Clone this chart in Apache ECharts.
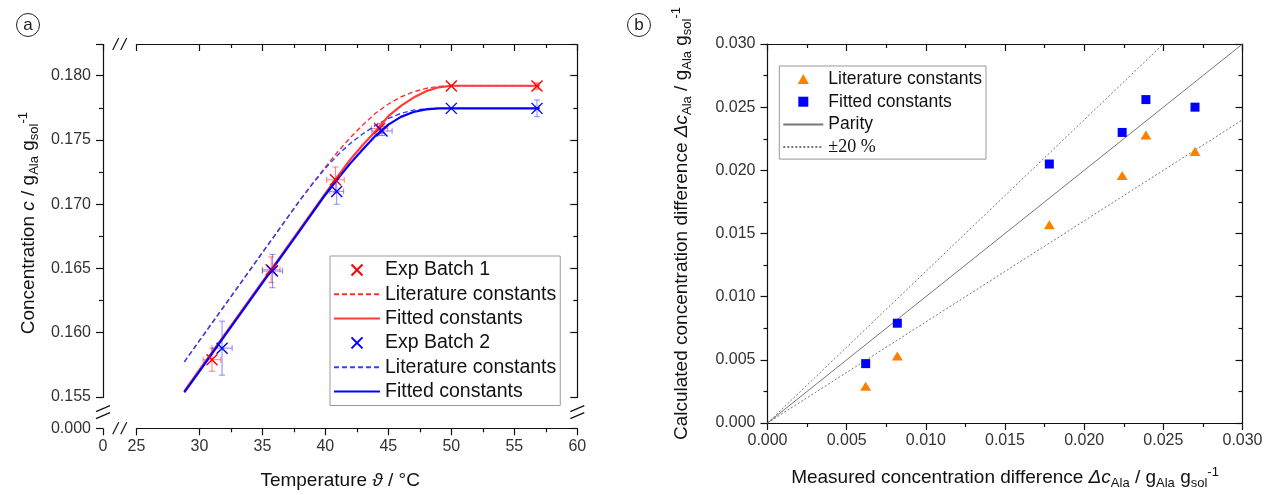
<!DOCTYPE html>
<html><head><meta charset="utf-8">
<script src="https://cdn.jsdelivr.net/npm/echarts@6/dist/echarts.min.js"></script>
<style>html,body{margin:0;padding:0;background:#fff}#c{width:1272px;height:495px}</style>
</head><body><div id="c"></div>
<script>
// ---------- Panel a data ----------
const b1T  = [31.0, 35.7, 40.8, 44.3, 50.0, 56.8];
const b1C  = [0.1579, 0.1649, 0.1719, 0.1759, 0.1792, 0.1792];
const b1dT = [0.7, 0.7, 0.7, 0.65, 0, 0.1];
const b1dC = [0.0009, 0.0010, 0.0010, 0.0004, 0, 0.00025];
const b2T  = [31.8, 35.8, 40.9, 44.5, 50.0, 56.8];
const b2C  = [0.1588, 0.1648, 0.1710, 0.1757, 0.17746, 0.17746];
const b2dT = [0.8, 0.8, 0.55, 0.8, 0, 0.15];
const b2dC = [0.0021, 0.0013, 0.0010, 0.00035, 0, 0.00065];

const curveT = [28.8, 30, 32, 34, 36, 38, 39, 40, 41, 42, 43, 44, 45, 46, 47, 48, 49, 50, 57];
const fit1C = [0.15545, 0.15710, 0.15985, 0.16259, 0.16534, 0.16809, 0.16946, 0.17084, 0.17221, 0.17350, 0.17465, 0.17570, 0.17685, 0.17765, 0.17830, 0.17880, 0.17910, 0.17922, 0.17922];
const lit1C = [0.15773, 0.15938, 0.16212, 0.16486, 0.16760, 0.17034, 0.17165, 0.17290, 0.17410, 0.17520, 0.17620, 0.17710, 0.17780, 0.17835, 0.17875, 0.17902, 0.17917, 0.17922, 0.17922];
const fit2C = [0.15535, 0.15700, 0.15975, 0.16249, 0.16524, 0.16799, 0.16936, 0.17074, 0.17200, 0.17320, 0.17430, 0.17535, 0.17620, 0.17680, 0.17718, 0.17738, 0.17746, 0.17746, 0.17746];
const lit2C = [0.15773, 0.15938, 0.16212, 0.16486, 0.16760, 0.17034, 0.17160, 0.17280, 0.17385, 0.17475, 0.17550, 0.17615, 0.17668, 0.17707, 0.17732, 0.17744, 0.17746, 0.17746, 0.17746];

// ---------- Panel b data ----------
const measDiff = [0.0062, 0.0082, 0.0178, 0.0224, 0.0239, 0.0270];
const calcLit  = [0.0029, 0.0053, 0.0157, 0.0196, 0.0228, 0.0215];
const calcFit  = [0.0047, 0.0079, 0.0205, 0.0230, 0.0256, 0.0250];
const parityLine = [[0, 0], [0.030, 0.030]];
const plus20Line = [[0, 0], [0.025, 0.030]];
const minus20Line = [[0, 0], [0.030, 0.024]];

const legendLabels = {
  b1: 'Exp Batch 1', lit1: 'Literature constants', fit1: 'Fitted constants',
  b2: 'Exp Batch 2', lit2: 'Literature constants', fit2: 'Fitted constants',
  litR: 'Literature constants', fitR: 'Fitted constants', parity: 'Parity', pm20: '{s|\u00b120 %}'
};

const FONT = '"Liberation Sans", Arial, sans-serif';
const zip = (a, b) => a.map((v, i) => [v, b[i]]);
const zip4 = (a, b, c, d) => a.map((v, i) => [v, b[i], c[i], d[i]]);

const RED = '#ff0000', BLUE = '#0000ff';
const XSYM = 'path://M0,0L10,10M10,0L0,10';
const TRI = 'path://M5,0L10,9L0,9Z';
const SQ = 'path://M0,0L10,0L10,10L0,10Z';

function errRender(color) {
  return function (params, api) {
    const x = api.value(0), y = api.value(1), dx = api.value(2), dy = api.value(3);
    const c = api.coord([x, y]);
    const ch = [];
    const cap = 3;
    const st = { stroke: color, lineWidth: 1 };
    if (dy > 0) {
      const t = api.coord([x, y + dy]), b = api.coord([x, y - dy]);
      ch.push({ type: 'line', shape: { x1: c[0], y1: t[1], x2: c[0], y2: b[1] }, style: st });
      ch.push({ type: 'line', shape: { x1: c[0] - cap, y1: t[1], x2: c[0] + cap, y2: t[1] }, style: st });
      ch.push({ type: 'line', shape: { x1: c[0] - cap, y1: b[1], x2: c[0] + cap, y2: b[1] }, style: st });
    }
    if (dx > 0) {
      const l = api.coord([x - dx, y]), r = api.coord([x + dx, y]);
      ch.push({ type: 'line', shape: { x1: l[0], y1: c[1], x2: r[0], y2: c[1] }, style: st });
      ch.push({ type: 'line', shape: { x1: l[0], y1: c[1] - cap, x2: l[0], y2: c[1] + cap }, style: st });
      ch.push({ type: 'line', shape: { x1: r[0], y1: c[1] - cap, x2: r[0], y2: c[1] + cap }, style: st });
    }
    return { type: 'group', children: ch };
  };
}

const NF = 19;
const nameRich = {
  t: { fontSize: NF, fontFamily: FONT, color: '#111', lineHeight: 24 },
  i: { fontSize: NF, fontFamily: FONT, color: '#111', lineHeight: 24, fontStyle: 'italic' },
  s: { fontSize: 13, fontFamily: FONT, color: '#111', lineHeight: 10, verticalAlign: 'bottom' },
  p: { fontSize: 13, fontFamily: FONT, color: '#111', lineHeight: 10, verticalAlign: 'top' }
};

const lineCol = '#111';
function baseAxis(extra) {
  return Object.assign({
    type: 'value',
    axisLine: { show: true, onZero: false, lineStyle: { color: lineCol, width: 1.2 } },
    axisTick: { show: true, length: 7, lineStyle: { color: lineCol, width: 1.2 } },
    minorTick: { show: true, splitNumber: 2, length: 4, lineStyle: { color: lineCol, width: 1.2 } },
    splitLine: { show: false },
    minorSplitLine: { show: false },
    axisLabel: { fontSize: 16, fontFamily: FONT, color: '#333' }
  }, extra);
}

const xBreak = [{ start: 0, end: 25, gap: 2.653 }];
const yBreak = [{ start: 0, end: 0.155, gap: 0.002438 }];
const Y0MAX = 0.18247;

const chart = echarts.init(document.getElementById('c'), null, { renderer: 'canvas' });

const hideSym = { opacity: 0 };
const option = {
  animation: false,
  backgroundColor: '#fff',
  grid: [
    { left: 103, right: 1272 - 577.3, top: 44, bottom: 495 - 428.3 },
    { left: 767.5, right: 1272 - 1242.5, top: 44, bottom: 495 - 427.3 }
  ],
  xAxis: [
    baseAxis({ gridIndex: 0, min: 0, max: 60, interval: 5, breaks: xBreak, breakArea: { show: false },
      axisLabel: { fontSize: 16, fontFamily: FONT, color: '#333', margin: 10 },
      name: '{t|Temperature }{i|\u03d1}{t| / \u00b0C}', nameLocation: 'middle', nameGap: 40,
      nameTextStyle: { rich: nameRich } }),
    baseAxis({ gridIndex: 0, position: 'top', min: 0, max: 60, interval: 5, breaks: xBreak, breakArea: { show: false },
      axisTick: { show: true, inside: true, length: 7, lineStyle: { color: lineCol, width: 1.2 } },
      axisLabel: { show: false } }),
    baseAxis({ gridIndex: 1, min: 0, max: 0.030, interval: 0.005,
      axisLabel: { fontSize: 16, fontFamily: FONT, color: '#333', margin: 10, formatter: v => v.toFixed(3) },
      name: '{t|Measured concentration difference }{i|\u0394c}{s|Ala}{t| / g}{s|Ala}{t| g}{s|sol}{p|-1}',
      nameLocation: 'middle', nameGap: 43, nameTextStyle: { rich: nameRich } }),
    baseAxis({ gridIndex: 1, position: 'top', min: 0, max: 0.030, interval: 0.005,
      axisTick: { show: true, inside: true, length: 7, lineStyle: { color: lineCol, width: 1.2 } },
      axisLabel: { show: false } })
  ],
  yAxis: [
    baseAxis({ gridIndex: 0, min: 0, max: Y0MAX, interval: 0.005, breaks: yBreak, breakArea: { show: false },
      axisLabel: { fontSize: 16, fontFamily: FONT, color: '#333', margin: 12, showMaxLabel: false,
        formatter: v => (Math.abs(v / 0.005 - Math.round(v / 0.005)) < 1e-6 ? v.toFixed(3) : '') },
      name: '{t|Concentration }{i|c}{t| / g}{s|Ala}{t| g}{s|sol}{p|-1}',
      nameLocation: 'middle', nameGap: 62, nameTextStyle: { rich: nameRich, padding: [0, 0, 0, 26] } }),
    baseAxis({ gridIndex: 0, position: 'right', min: 0, max: Y0MAX, interval: 0.005, breaks: yBreak, breakArea: { show: false },
      axisTick: { show: true, inside: true, length: 7, lineStyle: { color: lineCol, width: 1.2 } },
      axisLabel: { show: false } }),
    baseAxis({ gridIndex: 1, min: 0, max: 0.030, interval: 0.005,
      axisLabel: { fontSize: 16, fontFamily: FONT, color: '#333', margin: 12, formatter: v => v.toFixed(3) },
      name: '{t|Calculated concentration difference }{i|\u0394c}{s|Ala}{t| / g}{s|Ala}{t| g}{s|sol}{p|-1}',
      nameLocation: 'middle', nameGap: 74, nameTextStyle: { rich: nameRich, padding: [0, 0, 0, 20] } }),
    baseAxis({ gridIndex: 1, position: 'right', min: 0, max: 0.030, interval: 0.005,
      axisTick: { show: true, inside: true, length: 7, lineStyle: { color: lineCol, width: 1.2 } },
      axisLabel: { show: false } })
  ],
  legend: [
    {
      data: ['b1', { name: 'lit1', itemStyle: hideSym }, { name: 'fit1', itemStyle: hideSym },
             'b2', { name: 'lit2', itemStyle: hideSym }, { name: 'fit2', itemStyle: hideSym }],
      orient: 'vertical', left: 330, top: 256,
      padding: [4, 4, 4, 3], itemGap: 4.3, itemWidth: 46, itemHeight: 11,
      borderColor: '#999', borderWidth: 1, backgroundColor: '#fff',
      formatter: n => legendLabels[n],
      textStyle: { fontSize: 19.5, fontFamily: FONT, color: '#111', lineHeight: 20 },
      selectedMode: false
    },
    {
      data: ['litR', 'fitR', { name: 'parity', itemStyle: hideSym }, { name: 'pm20', itemStyle: hideSym }],
      orient: 'vertical', left: 779.3, top: 66,
      padding: [3, 4, 2, 3], itemGap: 2.7, itemWidth: 40, itemHeight: 10,
      borderColor: '#999', borderWidth: 1, backgroundColor: '#fff',
      formatter: n => legendLabels[n],
      textStyle: { fontSize: 17.5, fontFamily: FONT, color: '#111', lineHeight: 20,
        rich: { s: { fontSize: 18, fontFamily: '"Liberation Serif", "Times New Roman", serif', color: '#111', lineHeight: 20 } } },
      selectedMode: false
    }
  ],
  series: [
    // panel a
    { type: 'custom', name: 'err1', xAxisIndex: 0, yAxisIndex: 0, z: 2, renderItem: errRender('rgba(255,40,40,0.6)'),
      data: zip4(b1T, b1C, b1dT, b1dC), encode: { x: 0, y: 1 } },
    { type: 'custom', name: 'err2', xAxisIndex: 0, yAxisIndex: 0, z: 2, renderItem: errRender('rgba(40,40,255,0.55)'),
      data: zip4(b2T, b2C, b2dT, b2dC), encode: { x: 0, y: 1 } },
    { type: 'line', name: 'lit1', xAxisIndex: 0, yAxisIndex: 0, z: 3, symbol: 'none', data: zip(curveT, lit1C),
      lineStyle: { color: '#ff3030', width: 1.4, type: [5, 3] }, itemStyle: { color: '#ff3030' } },
    { type: 'line', name: 'lit2', xAxisIndex: 0, yAxisIndex: 0, z: 3, symbol: 'none', data: zip(curveT, lit2C),
      lineStyle: { color: '#3040ff', width: 1.4, type: [5, 3] }, itemStyle: { color: '#3040ff' } },
    { type: 'line', name: 'fit1', xAxisIndex: 0, yAxisIndex: 0, z: 3, symbol: 'none', data: zip(curveT, fit1C),
      lineStyle: { color: '#ff3b3b', width: 2.2 }, itemStyle: { color: '#ff3b3b' } },
    { type: 'line', name: 'fit2', xAxisIndex: 0, yAxisIndex: 0, z: 3, symbol: 'none', data: zip(curveT, fit2C),
      lineStyle: { color: '#0000ff', width: 2.2 }, itemStyle: { color: '#0000ff' } },
    { type: 'scatter', name: 'b1', xAxisIndex: 0, yAxisIndex: 0, z: 4, symbol: XSYM, symbolSize: 11,
      data: zip(b1T, b1C), itemStyle: { color: RED, borderColor: RED, borderWidth: 1.4, opacity: 1 } },
    { type: 'scatter', name: 'b2', xAxisIndex: 0, yAxisIndex: 0, z: 4, symbol: XSYM, symbolSize: 11,
      data: zip(b2T, b2C), itemStyle: { color: BLUE, borderColor: BLUE, borderWidth: 1.4, opacity: 1 } },
    // panel b
    { type: 'line', name: 'parity', xAxisIndex: 2, yAxisIndex: 2, z: 2, symbol: 'none', data: parityLine,
      lineStyle: { color: '#777', width: 1 }, itemStyle: { color: '#777' } },
    { type: 'line', name: 'pm20', xAxisIndex: 2, yAxisIndex: 2, z: 2, symbol: 'none', data: plus20Line,
      lineStyle: { color: '#777', width: 1, type: [2, 2] }, itemStyle: { color: '#777' } },
    { type: 'line', name: 'pm20', xAxisIndex: 2, yAxisIndex: 2, z: 2, symbol: 'none', data: minus20Line,
      lineStyle: { color: '#777', width: 1, type: [2, 2] }, itemStyle: { color: '#777' } },
    { type: 'scatter', name: 'litR', xAxisIndex: 2, yAxisIndex: 2, z: 4, symbol: TRI, symbolSize: [11, 10], symbolKeepAspect: true,
      data: zip(measDiff, calcLit), itemStyle: { color: '#ff7f00', opacity: 1 } },
    { type: 'scatter', name: 'fitR', xAxisIndex: 2, yAxisIndex: 2, z: 4, symbol: SQ, symbolSize: 9, symbolKeepAspect: true,
      data: zip(measDiff, calcFit), itemStyle: { color: '#0000ff', opacity: 1 } }
  ]
};

chart.setOption(option);

// decorations: panel labels and axis-break marks
function panelLabel(cx, cy, txt) {
  return [
    { type: 'circle', shape: { cx: cx, cy: cy, r: 11.5 }, style: { fill: '#fff', stroke: '#222', lineWidth: 1 }, z: 10 },
    { type: 'text', x: cx, y: cy, style: { text: txt, fontSize: 17, fontFamily: FONT, fill: '#222', align: 'center', verticalAlign: 'middle' }, z: 11 }
  ];
}
const g = [].concat(panelLabel(28, 25, 'a'), panelLabel(639, 25, 'b'));

const xL = chart.convertToPixel({ xAxisIndex: 0 }, 0);
const xR = chart.convertToPixel({ xAxisIndex: 0 }, 60);
const x25 = chart.convertToPixel({ xAxisIndex: 0 }, 25);
const yB = chart.convertToPixel({ yAxisIndex: 0 }, 0);
const yT = chart.convertToPixel({ yAxisIndex: 0 }, Y0MAX);
const y155 = chart.convertToPixel({ yAxisIndex: 0 }, 0.155);
const mx = (xL + x25) / 2, my = (yB + y155) / 2;
const bs = { stroke: '#111', lineWidth: 1.2 };
function xBreakMark(x, y) {
  return [
    { type: 'rect', shape: { x: x - 3.5, y: y - 2, width: 7, height: 4 }, style: { fill: '#fff' }, z: 20 },
    { type: 'line', shape: { x1: x - 7, y1: y + 6, x2: x - 1, y2: y - 6 }, style: bs, z: 21 },
    { type: 'line', shape: { x1: x + 1, y1: y + 6, x2: x + 7, y2: y - 6 }, style: bs, z: 21 }
  ];
}
function yBreakMark(x, y) {
  return [
    { type: 'rect', shape: { x: x - 2, y: y - 3.5, width: 4, height: 7 }, style: { fill: '#fff' }, z: 20 },
    { type: 'line', shape: { x1: x - 7, y1: y - 1, x2: x + 7, y2: y - 7 }, style: bs, z: 21 },
    { type: 'line', shape: { x1: x - 7, y1: y + 6, x2: x + 7, y2: y }, style: bs, z: 21 }
  ];
}
g.push(...xBreakMark(mx, yB), ...xBreakMark(mx, yT), ...yBreakMark(xL, my), ...yBreakMark(xR, my));
chart.setOption({ graphic: g });
</script></body></html>
